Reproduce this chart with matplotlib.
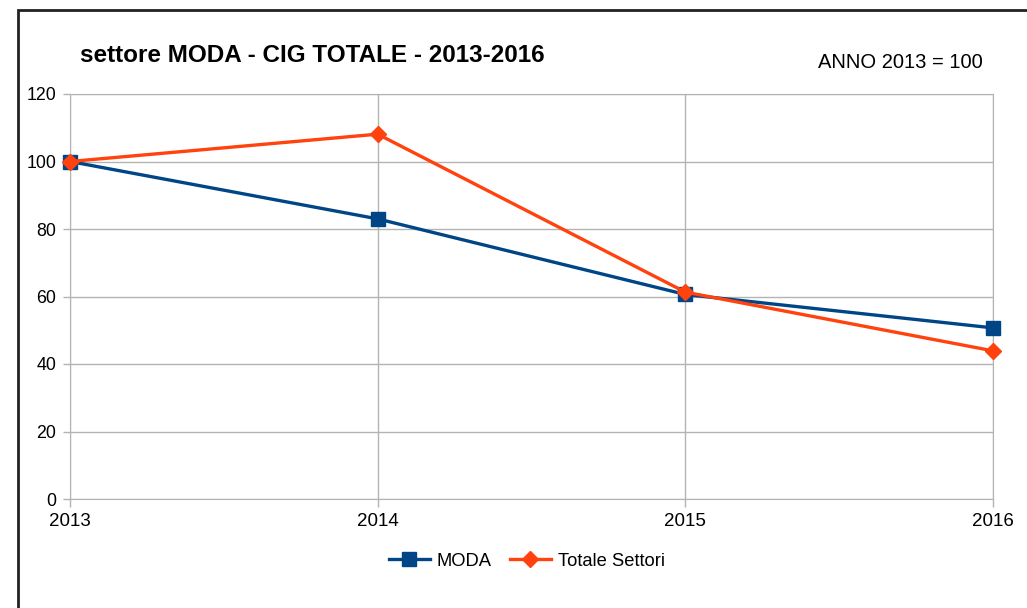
import matplotlib
matplotlib.use("Agg")
import matplotlib.pyplot as plt
from matplotlib.patches import Rectangle

# dati (anno 2013 = 100)
anni = ["2013", "2014", "2015", "2016"]
moda = [100, 83.0, 60.6, 50.7]
totale_settori = [100, 108.1, 61.3, 43.9]
y_ticks = [0, 20, 40, 60, 80, 100, 120]

plt.rcParams["font.family"] = ["Liberation Sans", "DejaVu Sans"]

fig = plt.figure(figsize=(10.27, 6.08), dpi=100)
ax = fig.add_axes([70 / 1027, 1 - 499 / 608, 923 / 1027, 405 / 608])

x = list(range(len(anni)))
ax.plot(x, moda, color="#004586", lw=2.4, marker="s", ms=10, label="MODA",
        zorder=3, clip_on=False)
ax.plot(x, totale_settori, color="#ff420e", lw=2.4, marker="D", ms=8,
        label="Totale Settori", zorder=4, clip_on=False)

ax.set_xlim(0, len(anni) - 1)
ax.set_ylim(0, 120)
ax.set_xticks(x)
ax.set_xticklabels(anni)
ax.set_yticks(y_ticks)
ax.grid(True, color="#b3b3b3", lw=1)
ax.set_axisbelow(True)
for s in ax.spines.values():
    s.set_color("#b3b3b3")
ax.tick_params(colors="#b3b3b3", labelcolor="black", width=1)
ax.tick_params(axis="y", labelsize=12.8, length=5, pad=5)
ax.tick_params(axis="x", labelsize=13.5, length=6, pad=4)

fig.text(80 / 1027, 1 - 56 / 608, "settore MODA - CIG TOTALE - 2013-2016",
         fontsize=17.5, fontweight="bold", va="center", ha="left")
fig.text(983 / 1027, 1 - 62 / 608, "ANNO 2013 = 100", fontsize=14.5,
         va="center", ha="right")

leg = fig.legend(loc="center", bbox_to_anchor=(527 / 1027, 1 - 561 / 608),
                 ncol=2, frameon=False, fontsize=13.2, handlelength=2.2,
                 columnspacing=1.0, handletextpad=0.4)

# cornice del grafico (tagliata a destra e in basso)
fig.patches.append(Rectangle((18 / 1027, -0.1), 1.2, 1 - 10 / 608 + 0.1,
                             transform=fig.transFigure, fill=False,
                             edgecolor="#222222", lw=2))

fig.savefig("out.png", dpi=100)
